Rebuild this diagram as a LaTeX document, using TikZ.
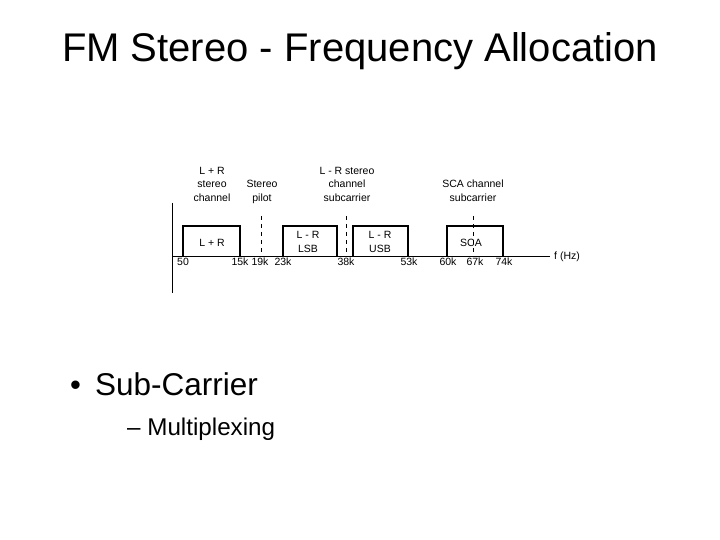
\documentclass[tikz,border=0pt]{standalone}
\usepackage{fontspec}
\setmainfont{Liberation Sans}
\begin{document}
\begin{tikzpicture}[x=1pt,y=-1pt,
  lbl/.style={inner sep=0pt,anchor=base,font=\fontsize{10.5}{12}\selectfont},
  band/.style={line width=2.2pt,line join=miter},
  pilotline/.style={line width=0.9pt,dash pattern=on 4pt off 4pt},
  axisline/.style={line width=1pt}]
\useasboundingbox[fill=white] (0,0) rectangle (720,540);
% title and bullets
\node[inner sep=0pt,anchor=base,font=\fontsize{40}{48}\selectfont] (title) at (360,62) {FM Stereo - Frequency Allocation};
\node[inner sep=0pt,anchor=base west,font=\fontsize{31}{36}\selectfont] (bul) at (70,395) {•};
\node[inner sep=0pt,anchor=base west,font=\fontsize{31.5}{36}\selectfont] (b1) at (95,395) {Sub-Carrier};
\node[inner sep=0pt,anchor=base west,font=\fontsize{24.2}{30}\selectfont] (b2) at (127,435) {– Multiplexing};
% axes
\coordinate (vtop) at (172,203);
\coordinate (vbot) at (172,293);
\coordinate (hl) at (172,256);
\coordinate (hr) at (550,256);
\draw[axisline] (vtop) -- (vbot);
\draw[axisline] (hl) -- (hr);
% bands
\coordinate (a1) at (183,256); \coordinate (a2) at (240,226); \coordinate (a3) at (240,256);
\coordinate (b1s) at (283,256); \coordinate (b2s) at (337,226); \coordinate (b3s) at (337,256);
\coordinate (c1) at (353,256); \coordinate (c2) at (408,226); \coordinate (c3) at (408,256);
\coordinate (d1) at (447,256); \coordinate (d2) at (503,226); \coordinate (d3) at (503,256);
\draw[band] (a1) |- (a2) -- (a3);
\draw[band] (b1s) |- (b2s) -- (b3s);
\draw[band] (c1) |- (c2) -- (c3);
\draw[band] (d1) |- (d2) -- (d3);
% dashed carriers
\coordinate (p1t) at (261,216); \coordinate (p1b) at (261,256);
\coordinate (p2t) at (346,216); \coordinate (p2b) at (346,256);
\coordinate (p3t) at (473,216); \coordinate (p3b) at (473,256);
\draw[pilotline] (p1t) -- (p1b);
\draw[pilotline] (p2t) -- (p2b);
\draw[pilotline] (p3t) -- (p3b);
% frequency labels
\node[lbl] (f50) at (183,265) {50};
\node[lbl] (f15) at (240,265) {15k};
\node[lbl] (f19) at (260,265) {19k};
\node[lbl] (f23) at (283,265) {23k};
\node[lbl] (f38) at (346,265) {38k};
\node[lbl] (f53) at (409,265) {53k};
\node[lbl] (f60) at (448,265) {60k};
\node[lbl] (f67) at (475,265) {67k};
\node[lbl] (f74) at (504,265) {74k};
\node[lbl,anchor=base west] (fhz) at (554,259) {f (Hz)};
% in-band labels
\node[lbl] (lr) at (212,246) {L + R};
\node[lbl] (lsb1) at (308,238) {L - R};
\node[lbl] (lsb2) at (308,252) {LSB};
\node[lbl] (usb1) at (380,238) {L - R};
\node[lbl] (usb2) at (380,252) {USB};
\node[lbl] (sca) at (471,246) {SCA};
% upper labels
\node[lbl] (t1a) at (212,175) {L + R};
\node[lbl] (t1b) at (212,188) {stereo};
\node[lbl] (t1c) at (212,202) {channel};
\node[lbl] (t2a) at (262,188) {Stereo};
\node[lbl] (t2b) at (262,202) {pilot};
\node[lbl] (t3a) at (347,175) {L - R stereo};
\node[lbl] (t3b) at (347,188) {channel};
\node[lbl] (t3c) at (347,202) {subcarrier};
\node[lbl] (t4a) at (473,188) {SCA channel};
\node[lbl] (t4b) at (473,202) {subcarrier};
\end{tikzpicture}
\end{document}
